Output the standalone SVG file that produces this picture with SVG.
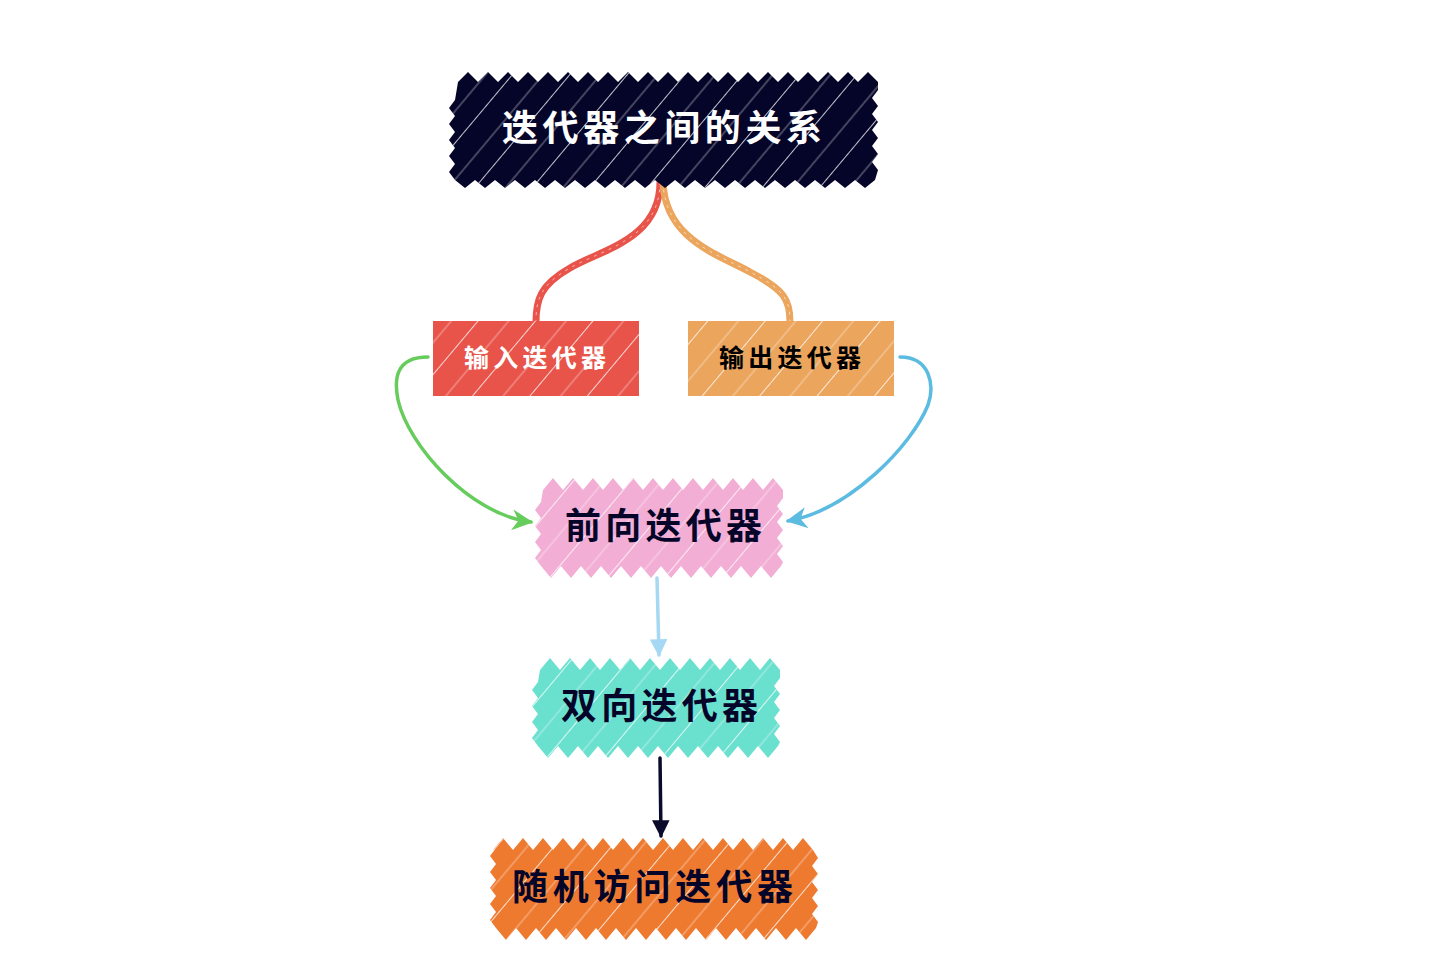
<svg xmlns="http://www.w3.org/2000/svg" width="1440" height="979" viewBox="0 0 1440 979">
<style>
.t{font-family:"Noto Sans CJK SC","Noto Sans",sans-serif;font-weight:700}
.hatch{fill:url(#hp)}
.conn{fill:none;stroke-linecap:round}
</style>
<defs>
<pattern id="hp" width="44" height="44" patternUnits="userSpaceOnUse" patternTransform="rotate(40)">
<line x1="0" y1="0" x2="0" y2="44" stroke="#ffffff" stroke-width="1.8" stroke-opacity="0.85"/>
<line x1="24" y1="0" x2="24" y2="44" stroke="#ffffff" stroke-width="1" stroke-opacity="0.5"/>
</pattern>
<path id="p-title" d="M458,82 l10,-10 l10,10 l10,-10 l10,10 l10,-10 l10,10 l10,-10 l10,10 l10,-10 l10,10 l10,-10 l10,10 l10,-10 l10,10 l10,-10 l10,10 l10,-10 l10,10 l10,-10 l10,10 l10,-10 l10,10 l10,-10 l10,10 l10,-10 l10,10 l10,-10 l10,10 l10,-10 l10,10 l10,-10 l10,10 l10,-10 l10,10 l10,-10 l10,10 l10,-10 l10,10 l10,-10 l10,10 l10,-10 l10,10 L878,90 l-6,8 l6,8 l-6,8 l6,8 l-6,8 l6,8 l-6,8 l6,8 l-6,8 l6,8 L875,180 l-10,8 l-10,-8 l-10,8 l-10,-8 l-10,8 l-10,-8 l-10,8 l-10,-8 l-10,8 l-10,-8 l-10,8 l-10,-8 l-10,8 l-10,-8 l-10,8 l-10,-8 l-10,8 l-10,-8 l-10,8 l-10,-8 l-10,8 l-10,-8 l-10,8 l-10,-8 l-10,8 l-10,-8 l-10,8 l-10,-8 l-10,8 l-10,-8 l-10,8 l-10,-8 l-10,8 l-10,-8 l-10,8 l-10,-8 l-10,8 l-10,-8 l-10,8 l-10,-8 l-10,8 l-10,-8 l-6,-8 l6,-8 l-6,-8 l6,-8 l-6,-8 l6,-8 l-6,-8 l6,-8 l-6,-8 l6,-8 Z"/>
<path id="p-fwd" d="M543,490 l10,-12 l10,12 l10,-12 l10,12 l10,-12 l10,12 l10,-12 l10,12 l10,-12 l10,12 l10,-12 l10,12 l10,-12 l10,12 l10,-12 l10,12 l10,-12 l10,12 l10,-12 l10,12 l10,-12 l10,12 l10,-12 l10,12 L783,498 l-6,8 l6,8 l-6,8 l6,8 l-6,8 l6,8 l-6,8 l6,8 L781,566 l-10,12 l-10,-12 l-10,12 l-10,-12 l-10,12 l-10,-12 l-10,12 l-10,-12 l-10,12 l-10,-12 l-10,12 l-10,-12 l-10,12 l-10,-12 l-10,12 l-10,-12 l-10,12 l-10,-12 l-10,12 l-10,-12 l-10,12 l-10,-12 l-10,12 l-10,-12 l-6,-8 l6,-8 l-6,-8 l6,-8 l-6,-8 l6,-8 l-6,-8 l6,-8 Z"/>
<path id="p-ra" d="M493,850 l10,-12 l10,12 l10,-12 l10,12 l10,-12 l10,12 l10,-12 l10,12 l10,-12 l10,12 l10,-12 l10,12 l10,-12 l10,12 l10,-12 l10,12 l10,-12 l10,12 l10,-12 l10,12 l10,-12 l10,12 l10,-12 l10,12 l10,-12 l10,12 l10,-12 l10,12 l10,-12 l10,12 l10,-12 l10,12 L818,858 l-6,8 l6,8 l-6,8 l6,8 l-6,8 l6,8 l-6,8 l6,8 L816,928 l-10,12 l-10,-12 l-10,12 l-10,-12 l-10,12 l-10,-12 l-10,12 l-10,-12 l-10,12 l-10,-12 l-10,12 l-10,-12 l-10,12 l-10,-12 l-10,12 l-10,-12 l-10,12 l-10,-12 l-10,12 l-10,-12 l-10,12 l-10,-12 l-10,12 l-10,-12 l-10,12 l-10,-12 l-10,12 l-10,-12 l-10,12 l-10,-12 l-10,12 l-10,-12 l-6,-8 l6,-8 l-6,-8 l6,-8 l-6,-8 l6,-8 l-6,-8 l6,-8 l-6,-8 l6,-8 Z"/>
<marker id="ag" viewBox="0 0 10 10" refX="9" refY="5" markerWidth="6" markerHeight="6" orient="auto"><path d="M0,0 L10,5 L0,10 L3,5 Z" fill="#66cc5c"/></marker>
<marker id="ab" viewBox="0 0 10 10" refX="9" refY="5" markerWidth="6" markerHeight="6" orient="auto"><path d="M0,0 L10,5 L0,10 L3,5 Z" fill="#5bbbe0"/></marker>
<marker id="al" viewBox="0 0 10 10" refX="9" refY="5" markerWidth="5" markerHeight="5" orient="auto"><path d="M0,0 L10,5 L0,10 Z" fill="#a5d8f3"/></marker>
<marker id="ad" viewBox="0 0 10 10" refX="9" refY="5" markerWidth="5" markerHeight="5" orient="auto"><path d="M0,0 L10,5 L0,10 Z" fill="#0a0a2a"/></marker>
</defs>
<rect width="1440" height="979" fill="#ffffff"/>

<g id="connectors">
<path class="conn" d="M660,182 C660,240 600,250 570,268 C540,285 536,300 536,322" stroke="#e8534a" stroke-width="7"/>
<path class="conn" d="M660,182 C660,240 600,250 570,268 C540,285 536,300 536,322" stroke="#ffffff" stroke-width="1" stroke-dasharray="2 6" stroke-opacity="0.6"/>
<path class="conn" d="M663,182 C665,240 720,255 750,272 C785,290 790,300 790,322" stroke="#eba55d" stroke-width="7"/>
<path class="conn" d="M663,182 C665,240 720,255 750,272 C785,290 790,300 790,322" stroke="#ffffff" stroke-width="1" stroke-dasharray="2 6" stroke-opacity="0.6"/>
<path class="conn" d="M428,357 C395,357 394,380 398,400 C408,445 470,515 531,522" stroke="#66cc5c" stroke-width="3.5" marker-end="url(#ag)"/>
<path class="conn" d="M900,357 C930,357 935,385 928,405 C912,445 850,510 788,521" stroke="#5bbbe0" stroke-width="3.5" marker-end="url(#ab)"/>
<path class="conn" d="M657,578 L659,655" stroke="#a5d8f3" stroke-width="3.5" marker-end="url(#al)"/>
<path class="conn" d="M660,758 L661,836" stroke="#0a0a2a" stroke-width="3.5" marker-end="url(#ad)"/>
</g>

<g id="node-title">
<use href="#p-title" fill="#05052a"/>
<use href="#p-title" class="hatch"/>
<text class="t" x="502" y="141" font-size="36" textLength="320" lengthAdjust="spacing" fill="#ffffff">迭代器之间的关系</text>
</g>

<g id="node-input">
<rect x="433" y="321" width="206" height="75" fill="#e8534a"/>
<rect x="433" y="321" width="206" height="75" class="hatch"/>
<text class="t" x="464" y="367" font-size="25" textLength="142" lengthAdjust="spacing" fill="#ffffff">输入迭代器</text>
</g>

<g id="node-output">
<rect x="688" y="321" width="206" height="75" fill="#eba55d"/>
<rect x="688" y="321" width="206" height="75" class="hatch"/>
<text class="t" x="719" y="367" font-size="25" textLength="142" lengthAdjust="spacing" fill="#000000">输出迭代器</text>
</g>

<g id="node-forward">
<use href="#p-fwd" fill="#f2aed4"/>
<use href="#p-fwd" class="hatch"/>
<text class="t" x="565" y="539" font-size="36" textLength="197" lengthAdjust="spacing" fill="#05052a">前向迭代器</text>
</g>

<g id="node-bidirectional">
<use href="#p-fwd" x="-3" y="180" fill="#6ae0cf"/>
<use href="#p-fwd" x="-3" y="180" class="hatch"/>
<text class="t" x="561" y="719" font-size="36" textLength="197" lengthAdjust="spacing" fill="#05052a">双向迭代器</text>
</g>

<g id="node-random">
<use href="#p-ra" fill="#ee7a30"/>
<use href="#p-ra" class="hatch"/>
<text class="t" x="512" y="900" font-size="36" textLength="281" lengthAdjust="spacing" fill="#05052a">随机访问迭代器</text>
</g>
</svg>
